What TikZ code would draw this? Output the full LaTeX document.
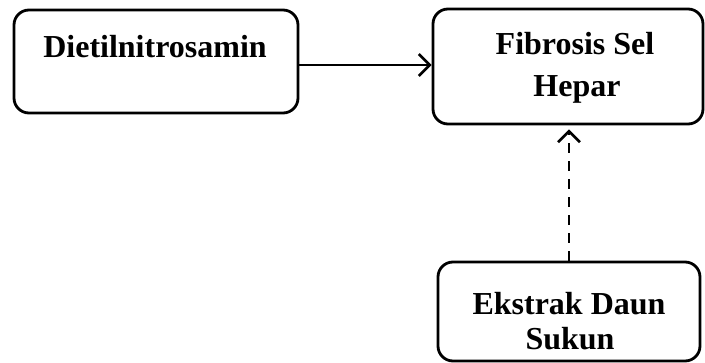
\documentclass[tikz,border=0pt]{standalone}
\usepackage{fontspec}
\setmainfont{Liberation Serif}
\usetikzlibrary{arrows.meta}
\begin{document}
\begin{tikzpicture}[x=1pt,y=-1pt,
  box/.style={draw,line width=2.8pt,rounded corners=15pt,inner sep=0pt},
  lbl/.style={anchor=base,inner sep=0pt,font=\fontsize{32}{40}\selectfont\bfseries},
  arr/.style={line width=2.8pt,-{Straight Barb[length=11pt,width=22pt,line width=2.6pt]}}]
\useasboundingbox (0,0) rectangle (705,363);
\node[box,minimum width=284pt,minimum height=103pt] (b1) at (156,61.5) {};
\node[box,minimum width=270pt,minimum height=115pt] (b2) at (568,66.5) {};
\node[box,minimum width=262pt,minimum height=99pt] (b3) at (569,311.5) {};
\node[lbl] (t1) at (155,58) {Dietilnitrosamin};
\node[lbl] (t2a) at (575,55) {Fibrosis Sel};
\node[lbl] (t2b) at (577,97) {Hepar};
\node[lbl] (t3a) at (569,315) {Ekstrak Daun};
\node[lbl] (t3b) at (570,350) {Sukun};
\draw[arr] ([yshift=-3.5pt]b1.east) -- ([yshift=-3.5pt]b2.west |- b1.east);
\draw[arr,dashed,dash pattern=on 10pt off 8pt,shorten >=4pt] (b3.north) -- (b3.north |- b2.south);
\end{tikzpicture}
\end{document}
